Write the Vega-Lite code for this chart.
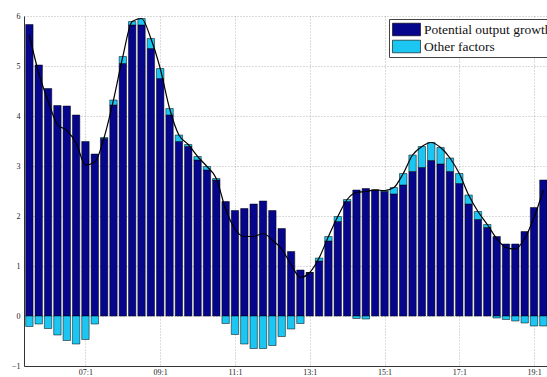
{
  "$schema": "https://vega.github.io/schema/vega-lite/v6.json",
  "width": 523,
  "height": 350,
  "autosize": {"type": "none"},
  "padding": {"left": 24, "top": 16, "right": 0, "bottom": 11},
  "background": "#ffffff",
  "config": {
    "view": {"stroke": null},
    "font": "Liberation Serif",
    "axis": {
      "labelFont": "Liberation Serif",
      "labelFontSize": 8,
      "labelColor": "#222",
      "domainColor": "#333",
      "domainWidth": 1,
      "ticks": false,
      "grid": true,
      "gridColor": "#9a9a9a",
      "gridDash": [1, 2],
      "gridWidth": 0.7,
      "title": null
    }
  },
  "data": {
    "values": [
      {"t": 2005.5, "Potential output growth": 5.83, "Other factors": -0.21},
      {"t": 2005.75, "Potential output growth": 5.02, "Other factors": -0.16},
      {"t": 2006, "Potential output growth": 4.55, "Other factors": -0.25},
      {"t": 2006.25, "Potential output growth": 4.21, "Other factors": -0.38},
      {"t": 2006.5, "Potential output growth": 4.2, "Other factors": -0.49},
      {"t": 2006.75, "Potential output growth": 4.02, "Other factors": -0.56},
      {"t": 2007, "Potential output growth": 3.49, "Other factors": -0.47},
      {"t": 2007.25, "Potential output growth": 3.24, "Other factors": -0.16},
      {"t": 2007.5, "Potential output growth": 3.55, "Other factors": 0.02},
      {"t": 2007.75, "Potential output growth": 4.22, "Other factors": 0.1},
      {"t": 2008, "Potential output growth": 5.05, "Other factors": 0.14},
      {"t": 2008.25, "Potential output growth": 5.82, "Other factors": 0.07},
      {"t": 2008.5, "Potential output growth": 5.82, "Other factors": 0.13},
      {"t": 2008.75, "Potential output growth": 5.35, "Other factors": 0.2},
      {"t": 2009, "Potential output growth": 4.75, "Other factors": 0.2},
      {"t": 2009.25, "Potential output growth": 4.02, "Other factors": 0.13},
      {"t": 2009.5, "Potential output growth": 3.49, "Other factors": 0.13},
      {"t": 2009.75, "Potential output growth": 3.39, "Other factors": 0.04},
      {"t": 2010, "Potential output growth": 3.12, "Other factors": 0.07},
      {"t": 2010.25, "Potential output growth": 2.92, "Other factors": 0.07},
      {"t": 2010.5, "Potential output growth": 2.72, "Other factors": 0.03},
      {"t": 2010.75, "Potential output growth": 2.29, "Other factors": -0.15},
      {"t": 2011, "Potential output growth": 2.11, "Other factors": -0.37},
      {"t": 2011.25, "Potential output growth": 2.15, "Other factors": -0.56},
      {"t": 2011.5, "Potential output growth": 2.24, "Other factors": -0.65},
      {"t": 2011.75, "Potential output growth": 2.3, "Other factors": -0.65},
      {"t": 2012, "Potential output growth": 2.11, "Other factors": -0.59},
      {"t": 2012.25, "Potential output growth": 1.75, "Other factors": -0.41},
      {"t": 2012.5, "Potential output growth": 1.29, "Other factors": -0.26},
      {"t": 2012.75, "Potential output growth": 0.92, "Other factors": -0.15},
      {"t": 2013, "Potential output growth": 0.87, "Other factors": 0.0},
      {"t": 2013.25, "Potential output growth": 1.1, "Other factors": 0.06},
      {"t": 2013.5, "Potential output growth": 1.5, "Other factors": 0.09},
      {"t": 2013.75, "Potential output growth": 1.89, "Other factors": 0.1},
      {"t": 2014, "Potential output growth": 2.29, "Other factors": 0.04},
      {"t": 2014.25, "Potential output growth": 2.52, "Other factors": -0.05},
      {"t": 2014.5, "Potential output growth": 2.55, "Other factors": -0.06},
      {"t": 2014.75, "Potential output growth": 2.52, "Other factors": 0.0},
      {"t": 2015, "Potential output growth": 2.49, "Other factors": 0.02},
      {"t": 2015.25, "Potential output growth": 2.44, "Other factors": 0.13},
      {"t": 2015.5, "Potential output growth": 2.62, "Other factors": 0.23},
      {"t": 2015.75, "Potential output growth": 2.89, "Other factors": 0.33},
      {"t": 2016, "Potential output growth": 2.97, "Other factors": 0.42},
      {"t": 2016.25, "Potential output growth": 3.11, "Other factors": 0.36},
      {"t": 2016.5, "Potential output growth": 3.04, "Other factors": 0.33},
      {"t": 2016.75, "Potential output growth": 2.89, "Other factors": 0.27},
      {"t": 2017, "Potential output growth": 2.65, "Other factors": 0.2},
      {"t": 2017.25, "Potential output growth": 2.24, "Other factors": 0.18},
      {"t": 2017.5, "Potential output growth": 1.93, "Other factors": 0.16},
      {"t": 2017.75, "Potential output growth": 1.77, "Other factors": 0.06},
      {"t": 2018, "Potential output growth": 1.59, "Other factors": -0.04},
      {"t": 2018.25, "Potential output growth": 1.44, "Other factors": -0.07},
      {"t": 2018.5, "Potential output growth": 1.44, "Other factors": -0.1},
      {"t": 2018.75, "Potential output growth": 1.69, "Other factors": -0.14},
      {"t": 2019, "Potential output growth": 2.17, "Other factors": -0.2},
      {"t": 2019.25, "Potential output growth": 2.72, "Other factors": -0.2}
    ]
  },
  "transform": [
    {"fold": ["Potential output growth", "Other factors"], "as": ["component", "value"]}
  ],
  "layer": [
    {
      "mark": {"type": "bar", "width": 7.4, "stroke": "#000000", "strokeWidth": 0.5, "clip": true},
      "encoding": {
        "x": {
          "field": "t",
          "type": "quantitative",
          "scale": {"domain": [2005.49, 2019.213], "nice": false, "zero": false},
          "axis": {
            "values": [2007, 2009, 2011, 2013, 2015, 2017, 2019],
            "labelExpr": "slice(toString(datum.value), 2) + ':1'",
            "labelPadding": 2
          }
        },
        "y": {
          "field": "value",
          "type": "quantitative",
          "stack": "zero",
          "scale": {"domain": [-1, 6], "nice": false, "zero": false},
          "axis": {"values": [-1, 0, 1, 2, 3, 4, 5, 6], "labelPadding": 4}
        },
        "color": {
          "field": "component",
          "type": "nominal",
          "scale": {"domain": ["Potential output growth", "Other factors"], "range": ["#06068c", "#1cc6f2"]},
          "legend": {
            "orient": "none",
            "legendX": 365,
            "legendY": 3,
            "title": null,
            "symbolType": "M-2,-0.9H2V0.9H-2Z",
            "symbolSize": 196,
            "symbolOffset": 7,
            "symbolStrokeColor": "#000000",
            "symbolStrokeWidth": 0.6,
            "labelFont": "Liberation Serif",
            "labelFontSize": 13.5,
            "labelColor": "#111",
            "labelLimit": 400,
            "labelOffset": 10,
            "strokeColor": "#444",
            "fillColor": "#ffffff",
            "padding": 3,
            "rowPadding": 2
          }
        },
        "order": {"field": "component", "sort": "descending"}
      }
    },
    {
      "mark": {"type": "line", "interpolate": "monotone", "color": "#000000", "strokeWidth": 1.2, "clip": true},
      "encoding": {
        "x": {"field": "t", "type": "quantitative", "scale": {"domain": [2005.49, 2019.213], "nice": false, "zero": false}},
        "y": {"aggregate": "sum", "field": "value", "type": "quantitative", "scale": {"domain": [-1, 6], "nice": false, "zero": false}}
      }
    }
  ]
}
